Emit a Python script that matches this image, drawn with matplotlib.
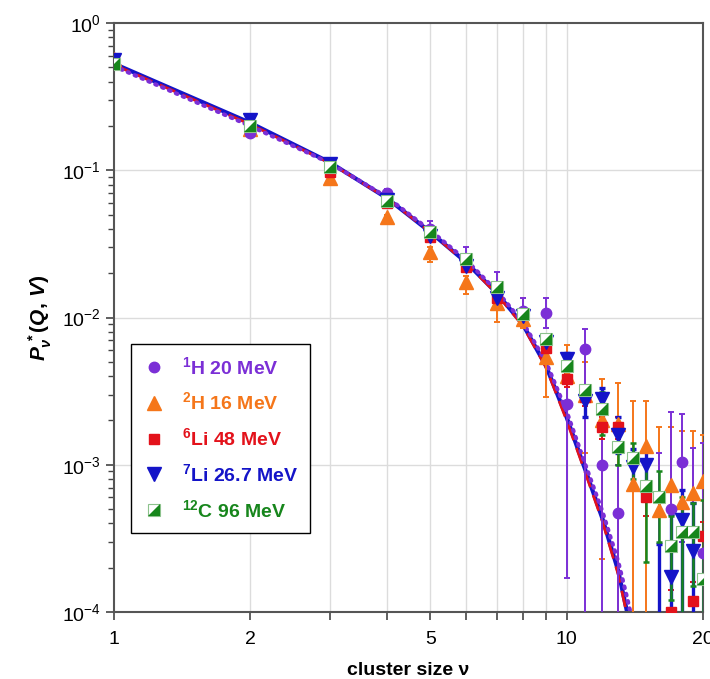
import numpy as np
import matplotlib
matplotlib.use('Agg')
import matplotlib.pyplot as plt
from matplotlib.lines import Line2D
from matplotlib.path import Path

plt.rcParams['font.family'] = ['Liberation Sans', 'DejaVu Sans']
plt.rcParams['mathtext.fontset'] = 'custom'
plt.rcParams['mathtext.it'] = 'Liberation Sans:italic:bold'
plt.rcParams['mathtext.rm'] = 'Liberation Sans:bold'
plt.rcParams['mathtext.bf'] = 'Liberation Sans:bold'

# ###############
# measured cluster-size distributions (value, lower bound, upper bound)
h1_nu  = [1, 2, 3, 4, 5, 6, 7, 8, 9, 10, 11, 12, 13, 16, 17, 18, 19, 20]
h1_val = [0.55, 0.18, 0.10, 0.07, 0.040, 0.025, 0.016, 0.011, 0.0107, 0.0026, 0.0061,
          0.00099, 0.00047, 0.00006, 0.00050, 0.00104, 0.00006, 0.00025]
h1_lo  = [0.55, 0.175, 0.098, 0.067, 0.037, 0.022, 0.014, 0.0095, 0.0085, 0.00017, 1e-5,
          1e-5, 1e-5, 1e-5, 1e-5, 0.0003, 1e-5, 1e-5]
h1_hi  = [0.56, 0.185, 0.103, 0.075, 0.045, 0.030, 0.0205, 0.0136, 0.0136, 0.0047, 0.0084,
          0.0019, 0.0010, 0.0012, 0.0023, 0.0022, 0.0013, 0.0014]

h2_nu  = [1, 2, 3, 4, 5, 6, 7, 8, 9, 10, 11, 12, 13, 14, 15, 16, 17, 18, 19, 20]
h2_val = [0.57, 0.19, 0.088, 0.048, 0.028, 0.0175, 0.0125, 0.0098, 0.0054, 0.0040, 0.0030,
          0.0020, 0.0019, 0.00074, 0.00134, 0.00049, 0.00073, 0.00056, 0.00064, 0.00077]
h2_lo  = [0.57, 0.185, 0.083, 0.044, 0.024, 0.0144, 0.0093, 0.0085, 0.0029, 0.0025, 0.0012,
          0.00023, 1e-5, 1e-5, 1e-5, 1e-5, 1e-5, 1e-5, 1e-5, 1e-5]
h2_hi  = [0.58, 0.195, 0.092, 0.050, 0.030, 0.019, 0.0135, 0.0136, 0.0074, 0.0065, 0.0050,
          0.0038, 0.0036, 0.0027, 0.0027, 0.0018, 0.0018, 0.0017, 0.0017, 0.0016]

li6_nu  = [1, 2, 3, 4, 5, 6, 7, 8, 9, 10, 11, 12, 13, 15, 17, 19, 20]
li6_val = [0.55, 0.20, 0.097, 0.060, 0.035, 0.022, 0.0135, 0.0105, 0.0062, 0.0038, 0.0029,
           0.0018, 0.0018, 0.00060, 0.00010, 0.000118, 0.00033]
li6_lo  = [0.54, 0.195, 0.095, 0.058, 0.034, 0.021, 0.013, 0.010, 0.0058, 0.0034, 0.0025,
           0.0015, 0.0015, 0.00045, 0.00006, 0.00008, 0.00025]
li6_hi  = [0.56, 0.205, 0.099, 0.062, 0.036, 0.023, 0.014, 0.011, 0.0066, 0.0042, 0.0033,
           0.0021, 0.0021, 0.00075, 0.00014, 0.00016, 0.00041]

li7_nu  = [1, 2, 3, 4, 5, 6, 7, 8, 9, 10, 11, 12, 13, 14, 15, 16, 17, 18, 19]
li7_val = [0.56, 0.22, 0.11, 0.063, 0.036, 0.0225, 0.0135, 0.0102, 0.0068, 0.0052, 0.0027,
           0.0028, 0.0016, 0.00097, 0.00099, 0.00006, 0.000173, 0.00042, 0.00026]
li7_lo  = [0.55, 0.215, 0.107, 0.061, 0.035, 0.0218, 0.013, 0.0098, 0.0065, 0.0045, 0.0021,
           0.0022, 0.0012, 0.00070, 0.0006, 1e-5, 1e-5, 1e-5, 1e-5]
li7_hi  = [0.57, 0.225, 0.113, 0.065, 0.037, 0.0232, 0.014, 0.0106, 0.0071, 0.0057, 0.0033,
           0.0033, 0.0021, 0.00128, 0.0013, 0.00029, 0.00046, 0.00067, 0.00055]

c12_nu  = [1, 2, 3, 4, 5, 6, 7, 8, 9, 10, 11, 12, 13, 14, 15, 16, 17, 18, 19, 20]
c12_val = [0.53, 0.20, 0.105, 0.062, 0.038, 0.025, 0.016, 0.0105, 0.0071, 0.0047, 0.0032,
           0.0024, 0.00131, 0.00111, 0.00072, 0.00060, 0.00028, 0.00035, 0.00035, 0.000167]
c12_lo  = [0.52, 0.195, 0.102, 0.060, 0.036, 0.024, 0.015, 0.010, 0.0067, 0.0044, 0.0029,
           0.0016, 0.0010, 0.0008, 0.00022, 0.0003, 0.00012, 1e-5, 0.00015, 1e-5]
c12_hi  = [0.54, 0.205, 0.108, 0.064, 0.040, 0.026, 0.017, 0.011, 0.0075, 0.0050, 0.0035,
           0.0031, 0.0017, 0.0014, 0.0011, 0.0009, 0.00045, 0.0006, 0.00055, 0.00058]

# model curves
fit_nu     = [1, 2, 3, 4, 5, 6, 7, 8, 9, 10, 11, 12, 13, 13.6, 14.2]
fit_red    = [0.52, 0.205, 0.112, 0.065, 0.038, 0.0235, 0.0145, 0.0088, 0.0046, 0.0020,
              0.00088, 0.00041, 0.00018, 0.000095, 0.00005]
fit_blue   = [0.53, 0.21, 0.113, 0.065, 0.038, 0.0237, 0.0147, 0.0090, 0.0047, 0.0021,
              0.00092, 0.00043, 0.00019, 0.000100, 0.00005]
fit_purple = [0.51, 0.20, 0.112, 0.066, 0.039, 0.0245, 0.0152, 0.0093, 0.0050, 0.0023,
              0.00100, 0.00048, 0.00022, 0.000125, 0.00007]

c_h1, c_h2, c_li6, c_li7, c_c12 = '#7b2fd6', '#f5761a', '#e3121b', '#1414c8', '#17861c'

fig = plt.figure(figsize=(7.1, 6.79), dpi=100)
ax = fig.add_axes([0.1606, 0.0987, 0.8294, 0.8673])

ax.plot(fit_nu, fit_blue, color=c_li7, lw=3.0, zorder=2)
ax.plot(fit_nu, fit_red, color=c_li6, lw=2.0, ls=(0, (6, 3)), zorder=2.1)
ax.plot(fit_nu, fit_purple, color=c_h1, lw=3.0, ls=(0, (0.4, 1.4)),
        dash_capstyle='round', zorder=2.2)

def draw(nu, val, lo, hi, color, marker, ms, elw, **kw):
    val = np.array(val); lo = np.array(lo); hi = np.array(hi)
    yerr = [val - lo, hi - val]
    return ax.errorbar(nu, val, yerr=yerr, fmt=marker, color=color, ms=ms,
                       elinewidth=elw, capsize=2.5, capthick=elw, zorder=3, **kw)

draw(h2_nu, h2_val, h2_lo, h2_hi, c_h2, '^', 10, 1.4)
draw(h1_nu, h1_val, h1_lo, h1_hi, c_h1, 'o', 7.5, 1.4)
draw(li6_nu, li6_val, li6_lo, li6_hi, c_li6, 's', 7.5, 1.4)
draw(li7_nu, li7_val, li7_lo, li7_hi, c_li7, 'v', 10, 2.4)

# half-filled square for 12C
tri = Path([(-1, -1), (1, -1), (1, 1), (-1, -1)], [1, 2, 2, 79])
c12_val_a = np.array(c12_val)
ax.errorbar(c12_nu, c12_val_a, yerr=[c12_val_a - np.array(c12_lo), np.array(c12_hi) - c12_val_a],
            fmt='none', ecolor=c_c12, elinewidth=1.8, capsize=2.5, capthick=1.8, zorder=3)
ax.plot(c12_nu, c12_val, 's', ms=8, mfc='white', mec='#8cc28c', mew=0.8, zorder=3.1)
ax.plot(c12_nu, c12_val, ls='none', marker=tri, ms=8, color=c_c12, mew=0, zorder=3.2)

ax.set_xscale('log')
ax.set_yscale('log')
ax.set_xlim(1, 20)
ax.set_ylim(1e-4, 1)

ax.set_xticks([1, 2, 3, 4, 5, 6, 7, 8, 9, 10, 20])
ax.set_xticklabels(['1', '2', '', '', '5', '', '', '', '', '10', '20'])
ax.xaxis.set_minor_locator(matplotlib.ticker.NullLocator())
ax.set_yticks([1e-4, 1e-3, 1e-2, 1e-1, 1])
ax.set_yticklabels([r'$\mathregular{10^{-4}}$', r'$\mathregular{10^{-3}}$',
                    r'$\mathregular{10^{-2}}$', r'$\mathregular{10^{-1}}$',
                    r'$\mathregular{10^{0}}$'])
ax.yaxis.set_minor_locator(matplotlib.ticker.LogLocator(base=10, subs=np.arange(2, 10)))
ax.yaxis.set_minor_formatter(matplotlib.ticker.NullFormatter())
ax.tick_params(axis='both', which='major', labelsize=14, length=6, width=1.2, color='#444444')
ax.tick_params(axis='x', which='major', pad=8)
ax.tick_params(axis='y', which='minor', length=4, width=1.0, color='#444444')

for x in [2, 3, 4, 5, 6, 7, 8, 9, 10]:
    ax.axvline(x, color='#dcdcdc', lw=1.0, zorder=0)
for y in [1e-3, 1e-2, 1e-1]:
    ax.axhline(y, color='#dcdcdc', lw=1.0, zorder=0)

for s in ax.spines.values():
    s.set_color('#555555')
    s.set_linewidth(1.5)

ax.set_xlabel('cluster size ν', fontsize=14, fontweight='bold', labelpad=10)
ax.set_ylabel(r'$P_{\nu}^{\,*}(Q,\,V)$', fontsize=15, labelpad=6)

# legend
h_h1 = Line2D([], [], ls='none', marker='o', ms=7.5, color=c_h1)
h_h2 = Line2D([], [], ls='none', marker='^', ms=10, color=c_h2)
h_li6 = Line2D([], [], ls='none', marker='s', ms=7.5, color=c_li6)
h_li7 = Line2D([], [], ls='none', marker='v', ms=10, color=c_li7)
h_c1 = Line2D([], [], ls='none', marker='s', ms=8, mfc='white', mec='#8cc28c', mew=0.8)
h_c2 = Line2D([], [], ls='none', marker=tri, ms=8, color=c_c12, mew=0)
labels = [r'$^{1}$H 20 MeV', r'$^{2}$H 16 MeV', r'$^{6}$Li 48 MeV',
          r'$^{7}$Li 26.7 MeV', r'$^{12}$C 96 MeV']
leg = ax.legend([h_h1, h_h2, h_li6, h_li7, (h_c1, h_c2)], labels,
                loc='upper left', bbox_to_anchor=(0.029, 0.455), fancybox=False,
                edgecolor='black', framealpha=1, borderpad=0.6, labelspacing=0.72,
                handlelength=1.2, handletextpad=0.8, borderaxespad=0,
                prop={'size': 14, 'weight': 'bold'})
leg.get_frame().set_linewidth(1.0)
for t, c in zip(leg.get_texts(), [c_h1, c_h2, c_li6, c_li7, c_c12]):
    t.set_color(c)

fig.savefig('out.png', dpi=100)
